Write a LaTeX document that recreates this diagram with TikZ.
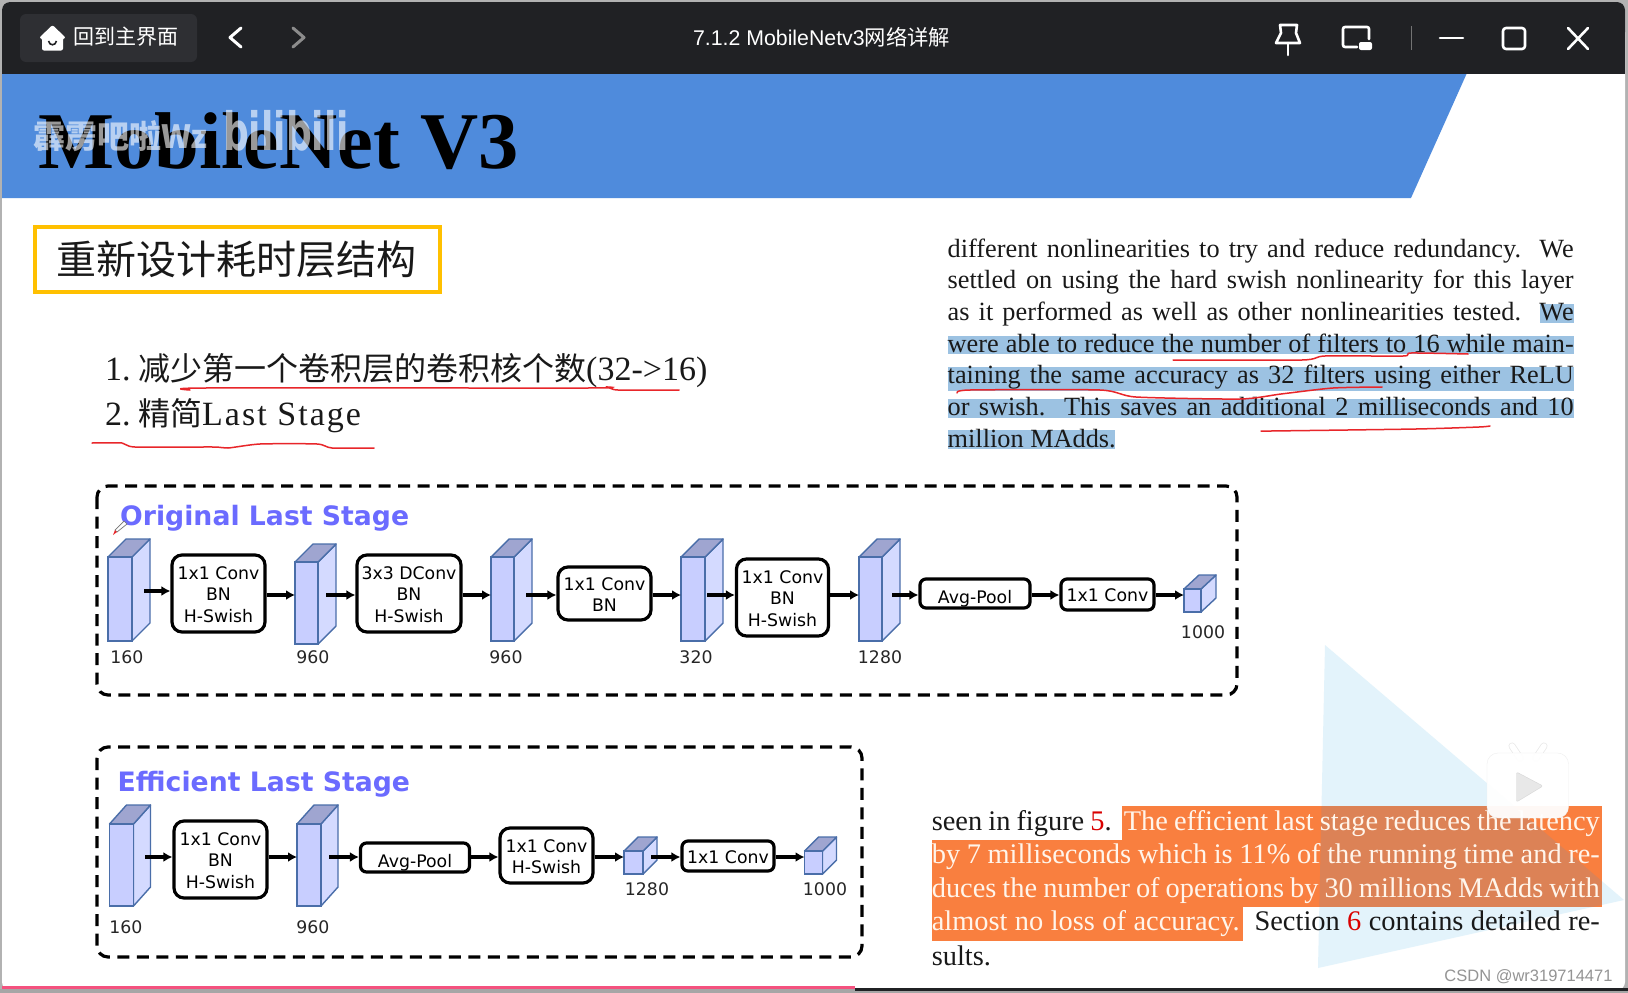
\documentclass[tikz,border=0pt]{standalone}
\usepackage{fontspec}
\usetikzlibrary{arrows.meta}
\setmainfont{Liberation Serif}
\newfontfamily\cjkf{Noto Sans CJK SC}
\newfontfamily\dvs{DejaVu Sans}
\newfontfamily\heros{Liberation Sans}
\newfontfamily\latsp[LetterSpace=6]{Liberation Serif}
\newcommand\fsz[2]{\fontsize{#1}{#2}\selectfont}
\definecolor{barbg}{HTML}{202124}
\definecolor{btnbg}{HTML}{2E2F33}
\definecolor{bandblue}{HTML}{4F8BDC}
\definecolor{selblue}{HTML}{9CC2E2}
\definecolor{selorange}{HTML}{F97F3F}
\definecolor{seltint}{HTML}{DC8256}
\definecolor{inkred}{HTML}{E8262A}
\definecolor{titleblue}{HTML}{6B6BFF}
\definecolor{cubedge}{HTML}{4A6EA9}
\definecolor{cubfrontc}{HTML}{C8CEFF}
\definecolor{cubsidec}{HTML}{D4DAFF}
\definecolor{cubtopc}{HTML}{9FA5D0}
\definecolor{wmblue}{HTML}{E3F3FB}
\definecolor{boxyellow}{HTML}{FFC000}
\definecolor{progpink}{HTML}{F4527F}
\tikzset{
  x=1pt,y=-1pt,
  cubfront/.style={draw=cubedge,fill=cubfrontc,line width=1.4pt,inner sep=0pt,outer sep=0pt},
  cubside/.style={draw=cubedge,fill=cubsidec,line width=1.4pt,line join=round},
  cubtop/.style={draw=cubedge,fill=cubtopc,line width=1.4pt,line join=round},
  opbox/.style={draw=black,fill=white,line width=3.2pt,rounded corners=10pt,inner sep=0pt,
     font=\dvs\fsz{17.3}{21.5}},
  flow/.style={line width=3.3pt,-{Latex[length=9pt,width=10pt]}},
  dashbox/.style={draw=black,line width=3.2pt,rounded corners=11pt,dash pattern=on 12pt off 7.5pt},
  dim/.style={font=\dvs\fsz{17.3}{20},inner sep=0pt,text=black!85},
  stagetitle/.style={font=\dvs\bfseries\fsz{26.7}{30},text=titleblue,inner sep=0pt,anchor=west},
  para/.style={inner sep=0pt,anchor=base west,text=black!90},
  inkline/.style={draw=inkred,line width=1.5pt,line cap=round},
  winicon/.style={draw=white,line width=2.6pt,line cap=round,line join=round},
}
\newcommand\cubo[7]{%
  \draw[cubside] ({#2+#4},#3) -- ({#2+#4+#6},{#3-#7}) -- ({#2+#4+#6},{#3+#5-#7}) -- ({#2+#4},{#3+#5}) -- cycle;
  \draw[cubtop] (#2,#3) -- ({#2+#6},{#3-#7}) -- ({#2+#4+#6},{#3-#7}) -- ({#2+#4},#3) -- cycle;
  \node[cubfront,minimum width=#4pt,minimum height=#5pt,anchor=north west] (#1) at (#2,#3) {};
}
\newcommand\optext[1]{\raisebox{-7.5pt}[0pt][0pt]{\begin{tabular}[c]{@{}c@{}}#1\end{tabular}}}
\newcommand\lineA[3]{\node[para] (#1) at (947.5,#2) {\fsz{26.3}{30}\makebox[626pt][s]{#3}};}
\newcommand\lineB[3]{\node[para] (#1) at (931.6,#2) {\fsz{28.4}{32}\makebox[668pt][s]{#3}};}
\begin{document}
\begin{tikzpicture}
\useasboundingbox (0,0) rectangle (1628,993);
% window
\fill[black!30] (0,0) rectangle (1628,993);
\fill[white,rounded corners=8pt] (2,2) rectangle (1625,990);
\fill[barbg,rounded corners=8pt] (2,2) rectangle (1625,40);
\fill[barbg] (2,20) rectangle (1625,74);
% header band
\fill[bandblue] (2,74) -- (1466.5,74) -- (1411,198) -- (2,198) -- cycle;
\node[inner sep=0pt,anchor=west,font=\bfseries\fsz{80.5}{90}] (maintitle) at (38,141) {MobileNet V3};
% toolbar
\fill[btnbg,rounded corners=6pt] (20,14) rectangle (197,62);
\fill[white,rounded corners=2pt] (52.5,25) -- (66,38) -- (63,38) -- (63,50.5) -- (42,50.5) -- (42,38) -- (39,38) -- cycle;
\draw[barbg,line width=1.6pt] (48.5,41) .. controls (49.5,46) and (55.5,46) .. (56.5,41);
\node[inner sep=0pt,anchor=west,text=white,font=\cjkf\fsz{21}{24}] (backbtn) at (73,37) {回到主界面};
\draw[white,line width=3pt,line cap=round,line join=round] (241,28) -- (230,37.5) -- (241,47);
\draw[black!45,line width=3pt,line cap=round,line join=round] (293,28) -- (304,37.5) -- (293,47);
\node[inner sep=0pt,text=white,font=\heros\fsz{21.3}{24}] (wintitle) at (821.5,37) {7.1.2 MobileNetv3{\cjkf 网络详解}};
% right icons
\draw[winicon] (1280,25) -- (1297,25) -- (1296,33) -- (1300,43) -- (1276,43) -- (1281,33) -- cycle;
\draw[winicon] (1288,43) -- (1288,55);
\draw[winicon,rounded corners=2pt] (1357,47) -- (1343,47) -- (1343,27) -- (1369,27) -- (1369,39);
\fill[white,rounded corners=2pt] (1359,42) rectangle (1372,50);
\draw[black!55,line width=1pt] (1411,26) -- (1411,50);
\draw[winicon] (1440,38) -- (1463,38);
\draw[winicon,rounded corners=3pt] (1503,28) rectangle (1525,49);
\draw[winicon] (1568,28) -- (1588,49) (1588,28) -- (1568,49);
% watermark over title
\node[inner sep=0pt,anchor=west,text=white,opacity=.6,font=\cjkf\bfseries\fsz{32}{34}] (wmname) at (33,136) {霹雳吧啦Wz};
\node[inner sep=0pt,anchor=west,text=white,opacity=.6,font=\dvs\bfseries\fsz{48}{50}] (wmlogo) at (223,131) {\scalebox{.75}[1.1]{bilibili}};
% yellow title box
\node[draw=boxyellow,line width=4pt,minimum width=405pt,minimum height=65pt,inner sep=0pt,font=\cjkf\fsz{40}{44},text=black!90] (redesign) at (237.5,259.5) {\hspace*{-3pt}重新设计耗时层结构};
% list
\node[para,font=\fsz{34}{38}] (item1) at (105,380) {\makebox[33pt][l]{1.}{\cjkf\fsz{32}{38}减少第一个卷积层的卷积核个数}(32->16)};
\node[para,font=\fsz{34}{38}] (item2) at (105,425) {\makebox[33pt][l]{2.}{\cjkf\fsz{32}{38}精简}{\latsp Last Stage}};
\draw[inkline] plot[smooth,tension=.4] coordinates {(190,390) (205,388) (587,388) (607,387) (618,390) (679,390)};
\draw[inkline] plot[smooth,tension=.4] coordinates {(92,443) (122,443) (135,447) (213,447) (228,448) (260,444) (317,444) (332,448) (374,448)};
% selection highlights (upper paragraph)
\fill[selblue] (1540,304) rectangle (1574,323);
\fill[selblue] (947.5,336) rectangle (1574,354);
\fill[selblue] (947.5,367) rectangle (1574,391);
\fill[selblue] (947.5,399) rectangle (1574,418);
\fill[selblue] (947.5,430) rectangle (1115,449);
\lineA{pa}{257}{different nonlinearities to try and reduce redundancy.\ \ We}
\lineA{pb}{288}{settled on using the hard swish nonlinearity for this layer}
\lineA{pc}{320}{as it performed as well as other nonlinearities tested.\ \ We}
\lineA{pd}{352}{were able to reduce the number of filters to 16 while main-}
\lineA{pe}{383}{taining the same accuracy as 32 filters using either ReLU}
\lineA{pf}{415}{or swish.\ \ This saves an additional 2 milliseconds and 10}
\node[para] (pg) at (947.5,447) {\fsz{26.3}{30}million MAdds.};
\draw[inkline] plot[smooth,tension=.4] coordinates {(1173,360) (1302,360) (1325,356) (1403,356) (1411,353) (1468,354)};
\draw[inkline] plot[smooth,tension=.4] coordinates {(957,393) (970,390) (1100,390) (1136,397) (1240,399) (1281,394) (1333,388) (1382,387)};
\draw[inkline] plot[smooth,tension=.4] coordinates {(1263,431) (1271,431) (1416,429) (1479,427) (1490,426)};
% ---------- Original Last Stage
\draw[dashbox] (97,486) rectangle (1237,695);
\node[stagetitle] (t1) at (120,518) {Original Last Stage};
\coordinate (ya) at (0,595);
\cubo{c1}{108}{557}{24}{84}{18}{18}
\cubo{c2}{295}{562}{23}{82}{18}{18}
\cubo{c3}{491}{557}{23}{84}{18}{18}
\cubo{c4}{681}{557}{24}{84}{18}{18}
\cubo{c5}{859}{557}{23}{84}{18}{18}
\cubo{c6}{1184}{589}{17}{23}{15}{14}
\node[opbox,minimum width=93pt,minimum height=77pt] (b1) at (218.5,593.5) {\optext{1x1 Conv\\BN\\H-Swish}};
\node[opbox,minimum width=104pt,minimum height=77pt] (b2) at (409,593.5) {\optext{3x3 DConv\\BN\\H-Swish}};
\node[opbox,minimum width=93pt,minimum height=53pt] (b3) at (604.5,593.5) {\optext{1x1 Conv\\BN}};
\node[opbox,minimum width=92pt,minimum height=77pt] (b4) at (782.5,597.5) {\optext{1x1 Conv\\BN\\H-Swish}};
\node[opbox,rounded corners=6pt,minimum width=110pt,minimum height=29pt] (b5) at (975,593.5) {\raisebox{-10pt}[0pt][0pt]{Avg-Pool}};
\node[opbox,rounded corners=6pt,minimum width=93pt,minimum height=31pt] (b6) at (1107.5,594.5) {\optext{1x1 Conv}};
\coordinate (c1o) at (144,591);
\coordinate (c2o) at (326,595);
\coordinate (c3o) at (526,595);
\coordinate (c4o) at (707,595);
\coordinate (c5o) at (892,595);
\draw[flow] (c1o) -- (c1o -| b1.west);
\draw[flow] (b1.east |- ya) -- (c2.west |- ya);
\draw[flow] (c2o) -- (c2o -| b2.west);
\draw[flow] (b2.east |- ya) -- (c3.west |- ya);
\draw[flow] (c3o) -- (c3o -| b3.west);
\draw[flow] (b3.east |- ya) -- (c4.west |- ya);
\draw[flow] (c4o) -- (c4o -| b4.west);
\draw[flow] (b4.east |- ya) -- (c5.west |- ya);
\draw[flow] (c5o) -- (c5o -| b5.west);
\draw[flow] (b5.east |- ya) -- (b6.west |- ya);
\draw[flow] (b6.east |- ya) -- (c6.west |- ya);
\node[dim] (n1) at (127,657) {160};
\node[dim] (n2) at (313,657) {960};
\node[dim] (n3) at (506,657) {960};
\node[dim] (n4) at (696,657) {320};
\node[dim] (n5) at (880,657) {1280};
\node[dim] (n6) at (1203,632) {1000};
% pencil cursor
\draw[black!55,fill=white,line width=.7pt] (124,521) -- (127,524) -- (117,532) -- (115,530) -- cycle;
\fill[inkred] (115,530) -- (117,532) -- (113,535) -- cycle;
% ---------- Efficient Last Stage
\draw[dashbox] (97,747) rectangle (862,957);
\node[stagetitle] (t2) at (117.5,784) {Efficient Last Stage};
\coordinate (yb) at (0,857);
\cubo{d1}{109.5}{824}{24}{82}{17}{19}
\cubo{d2}{297}{824}{24}{82}{17}{19}
\cubo{d3}{624}{851}{19}{23}{14}{14}
\cubo{d4}{804.5}{851}{18}{23}{14}{14}
\node[opbox,minimum width=93pt,minimum height=77pt] (e1) at (220.5,859.5) {\optext{1x1 Conv\\BN\\H-Swish}};
\node[opbox,rounded corners=6pt,minimum width=109pt,minimum height=29pt] (e2) at (415,857.5) {\raisebox{-10pt}[0pt][0pt]{Avg-Pool}};
\node[opbox,minimum width=93pt,minimum height=55pt] (e3) at (546.5,855.5) {\optext{1x1 Conv\\H-Swish}};
\node[opbox,rounded corners=6pt,minimum width=92pt,minimum height=30pt] (e4) at (728,856) {\optext{1x1 Conv}};
\coordinate (d1o) at (145,857);
\coordinate (d2o) at (329,857);
\coordinate (d3o) at (651,857);
\draw[flow] (d1o) -- (d1o -| e1.west);
\draw[flow] (e1.east |- yb) -- (d2.west |- yb);
\draw[flow] (d2o) -- (d2o -| e2.west);
\draw[flow] (e2.east |- yb) -- (e3.west |- yb);
\draw[flow] (e3.east |- yb) -- (d3.west |- yb);
\draw[flow] (d3o) -- (d3o -| e4.west);
\draw[flow] (e4.east |- yb) -- (d4.west |- yb);
\node[dim] (m1) at (126,927) {160};
\node[dim] (m2) at (313,927) {960};
\node[dim] (m3) at (647,889) {1280};
\node[dim] (m4) at (825,889) {1000};
% lower paragraph
\fill[wmblue] (1325,645) -- (1624,900) -- (1318,968) -- cycle;
\fill[selorange] (1121.5,806) rectangle (1601.5,839.7);
\fill[selorange] (931.6,839.7) rectangle (1601.5,907);
\fill[selorange] (931.6,907) rectangle (1242.6,941);
\begin{scope}
\clip (1325,645) -- (1624,900) -- (1318,968) -- cycle;
\fill[seltint] (1121.5,806) rectangle (1601.5,907);
\end{scope}
\lineB{qa}{830}{seen in figure {\color{red!85!black}5}.\ \ {\color{white!92!orange}The efficient last stage reduces the latency}}
\lineB{qb}{863}{\color{white!92!orange}by 7 milliseconds which is 11\% of the running time and re-}
\lineB{qc}{897}{\color{white!92!orange}duces the number of operations by 30 millions MAdds with}
\lineB{qd}{930}{{\color{white!92!orange}almost no loss of accuracy.}\ \ Section {\color{red!85!black}6} contains detailed re-}
\node[para] (qe) at (931.6,965) {\fsz{28.4}{32}sults.};
% play badge
\draw[black!9,line width=7pt,line cap=round] (1512,746) -- (1520,758) (1536,758) -- (1544,746);
\draw[white,line width=5.5pt,line cap=round] (1512,746) -- (1520,758) (1536,758) -- (1544,746);
\fill[white,rounded corners=11pt,opacity=.95,draw=black!7] (1487,753) rectangle (1568.5,818);
\fill[black!9,draw=black!16,rounded corners=2pt] (1516.5,772) -- (1543,786) -- (1516.5,802) -- cycle;
% csdn mark
\node[inner sep=0pt,text=black!42,font=\heros\fsz{16.5}{18}] (csdn) at (1528.5,977) {CSDN @wr319714471};
% progress line
\fill[black!35] (0,989) rectangle (1628,993);
\fill[barbg] (855,988) rectangle (1628,991);
\fill[progpink] (2,986) rectangle (855,989);
\end{tikzpicture}
\end{document}
